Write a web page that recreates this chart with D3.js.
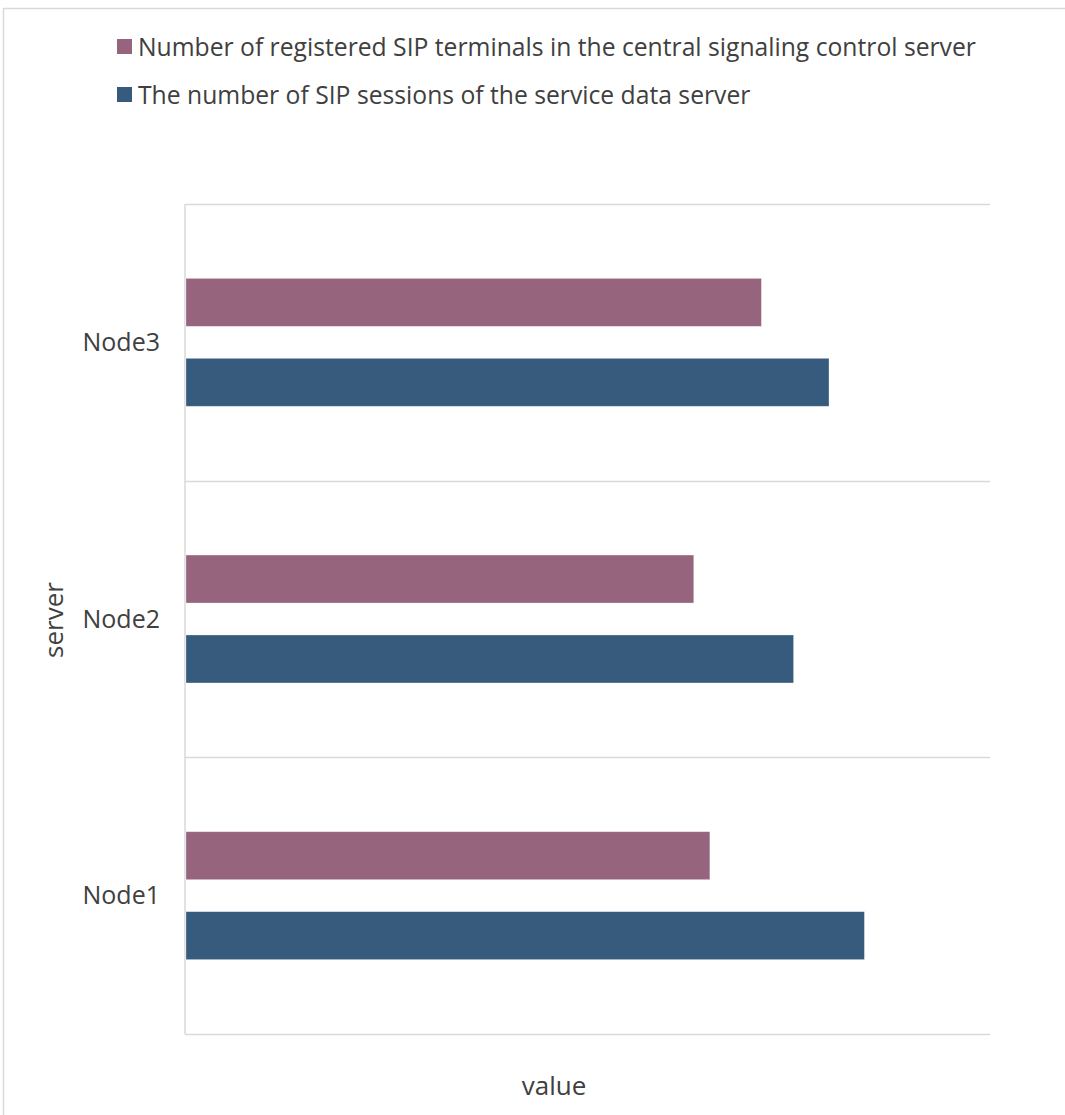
<!DOCTYPE html>
<html>
<head>
<meta charset="utf-8">
<script src="https://cdn.jsdelivr.net/npm/d3@7"></script>
<style>
  body { margin: 0; background: #fff; }
  text { font-family: "Open Sans", "Noto Sans", sans-serif; fill: #404040; }
</style>
</head>
<body>
<svg id="svg"></svg>
<script>
const nodes = ["Node1", "Node2", "Node3"];
const seriesNames = [
    "Number of registered SIP terminals in the central signaling control server",
    "The number of SIP sessions of the service data server"
];
const registeredTerminals = [652, 632, 716];
const sipSessions = [844, 756, 800];
const colours = ["#97647d", "#375b7d"];

const width = 1065;
const height = 1115;
const plot = { left: 185, right: 990, top: 204, bottom: 1034 };

let svg = d3.select("#svg").attr("width", width).attr("height", height);

// outer chart frame
svg.append("path")
    .attr("d", `M3.5,${height} V8.5 H${width}`)
    .attr("fill", "none")
    .attr("stroke", "#d9d9d9")
    .attr("stroke-width", 1.5);

let yScale = d3.scaleBand()
    .domain(nodes.slice().reverse())
    .range([plot.top, plot.bottom]);

let xScale = d3.scaleLinear()
    .domain([0, 1000])
    .range([plot.left, plot.right]);

// two bars per category, 48px thick with a 32px gap
let inner = d3.scaleBand()
    .domain([0, 1])
    .range([0, yScale.bandwidth()])
    .paddingInner(0.4)
    .paddingOuter(0.93);

// gridlines on category boundaries
let bounds = nodes.map(n => yScale(n)).concat([plot.bottom]);
svg.append("g").selectAll("line")
    .data(bounds)
    .join("line")
    .attr("x1", plot.left)
    .attr("x2", plot.right)
    .attr("y1", d => Math.round(d) + 0.5)
    .attr("y2", d => Math.round(d) + 0.5)
    .attr("stroke", "#d9d9d9")
    .attr("stroke-width", 1.5);

svg.append("line")
    .attr("x1", plot.left).attr("x2", plot.left)
    .attr("y1", plot.top).attr("y2", plot.bottom)
    .attr("stroke", "#d9d9d9")
    .attr("stroke-width", 1.5);

// bars
let rows = nodes.map((n, i) => ({ node: n, values: [registeredTerminals[i], sipSessions[i]] }));
let groups = svg.append("g").selectAll("g")
    .data(rows)
    .join("g")
    .attr("transform", d => `translate(0,${yScale(d.node)})`);

groups.selectAll("rect")
    .data(d => d.values.map((v, k) => ({ k: k, v: v })))
    .join("rect")
    .attr("x", plot.left + 1)
    .attr("y", d => inner(d.k))
    .attr("width", d => xScale(d.v) - plot.left - 1)
    .attr("height", inner.bandwidth())
    .attr("fill", d => colours[d.k])
    .attr("stroke", "#fff")
    .attr("stroke-opacity", 0.4)
    .attr("stroke-width", 0.75);

// category labels
svg.append("g").selectAll("text")
    .data(nodes)
    .join("text")
    .attr("x", 160)
    .attr("y", d => yScale(d) + yScale.bandwidth() / 2)
    .attr("dy", "0.35em")
    .attr("text-anchor", "end")
    .attr("font-size", "25px")
    .text(d => d);

// axis titles
svg.append("text")
    .attr("transform", `translate(63,620) rotate(-90)`)
    .attr("text-anchor", "middle")
    .attr("font-size", "26px")
    .text("server");

svg.append("text")
    .attr("x", 554)
    .attr("y", 1095)
    .attr("text-anchor", "middle")
    .attr("font-size", "26px")
    .text("value");

// legend
let legend = svg.append("g").selectAll("g")
    .data(seriesNames)
    .join("g")
    .attr("transform", (d, i) => `translate(117,${47 + i * 48})`);

legend.append("rect")
    .attr("x", 0).attr("y", -8)
    .attr("width", 15).attr("height", 15)
    .attr("fill", (d, i) => colours[i]);

legend.append("text")
    .attr("x", 21)
    .attr("y", 0)
    .attr("dy", "0.35em")
    .attr("font-size", "24.7px")
    .text(d => d);
</script>
</body>
</html>
